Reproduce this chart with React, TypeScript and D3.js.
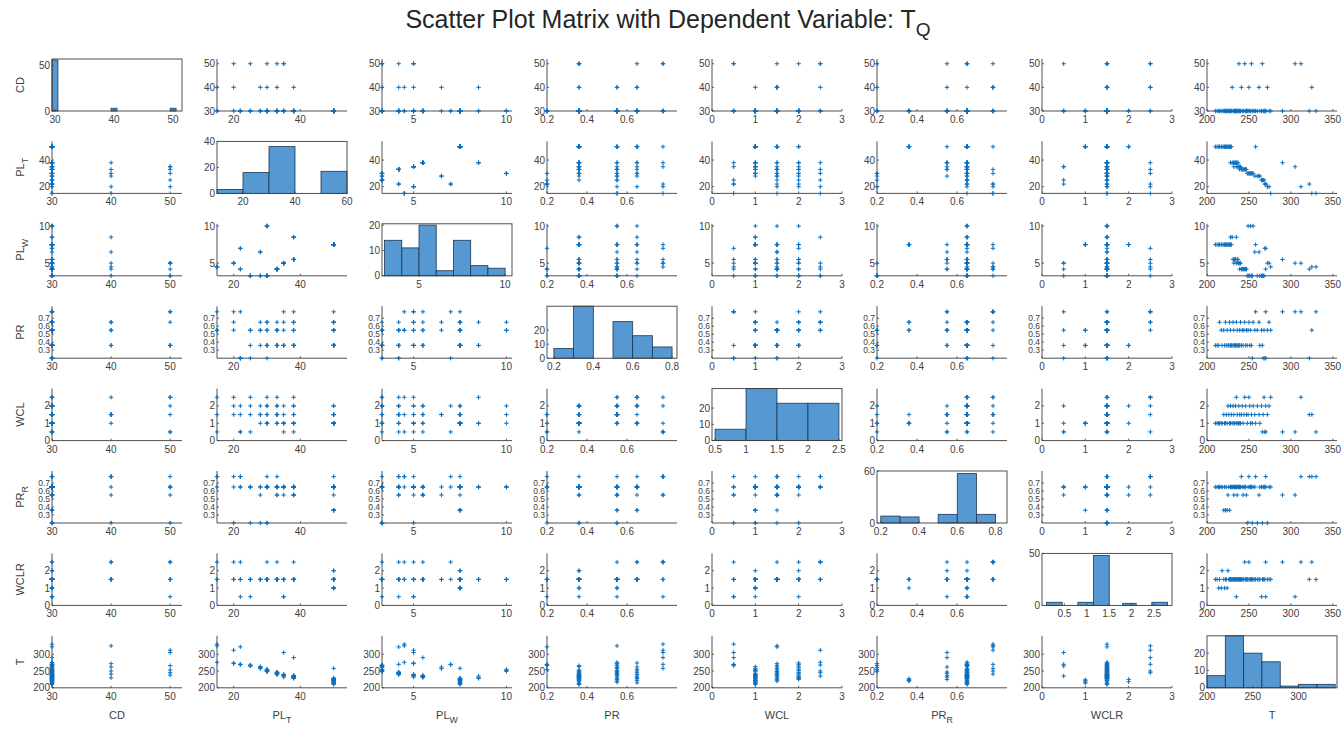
import React from "react";
import * as d3 from "d3";

// ---- Observations (one entry per sample, same order in every array) ----
const cd = [
  30, 30, 30, 30, 30, 30, 30, 30, 30, 30,
  30, 30, 30, 30, 30, 30, 30, 40, 30, 30,
  30, 30, 30, 30, 30, 30, 30, 30, 50, 30,
  30, 30, 40, 30, 30, 30, 50, 30, 30, 30,
  30, 40, 30, 30, 50, 30, 30, 30, 30, 30,
  40, 30, 30, 50, 30, 30, 30, 30, 30, 40,
  30, 30, 30, 50, 50, 30, 40, 30,
];
const plT = [
  50, 50, 50, 50, 50, 50, 50, 50, 50, 50,
  50, 50, 50, 50, 50, 38, 50, 38, 38, 38,
  35, 38, 38, 38, 35, 38, 38, 35, 35, 35,
  33, 35, 33, 33, 33, 33, 33, 33, 33, 30,
  30, 30, 30, 30, 30, 30, 30, 28, 50, 28,
  28, 28, 25, 25, 25, 25, 22, 22, 22, 20,
  20, 15, 38, 35, 20, 22, 15, 15,
];
const plW = [
  7.5, 7.5, 7.5, 7.5, 7.5, 7.5, 7.5, 7.5, 7.5, 7.5,
  7.5, 7.5, 7.5, 7.5, 7.5, 8.5, 7.5, 8.5, 5.5, 5.5,
  5, 5.5, 5.5, 8.5, 5, 5.5, 5.5, 5, 5, 5,
  4.2, 5, 4.2, 4.2, 4.2, 4.2, 4.2, 4.2, 4.2, 3.3,
  10, 3.3, 3.3, 10, 3.3, 3.3, 10, 6.5, 7.5, 3.3,
  6.5, 3.3, 3.3, 3.3, 3.3, 3.3, 7, 7, 4.2, 5,
  5, 4.5, 5.5, 5, 5, 4.2, 4.5, 4.5,
];
const pr = [
  0.36, 0.36, 0.36, 0.65, 0.55, 0.36, 0.55, 0.36, 0.65, 0.36,
  0.55, 0.36, 0.36, 0.65, 0.55, 0.36, 0.36, 0.36, 0.65, 0.55,
  0.36, 0.36, 0.36, 0.65, 0.36, 0.55, 0.36, 0.36, 0.36, 0.55,
  0.36, 0.65, 0.36, 0.55, 0.36, 0.55, 0.65, 0.36, 0.55, 0.36,
  0.55, 0.65, 0.36, 0.55, 0.36, 0.2, 0.65, 0.55, 0.78, 0.55,
  0.65, 0.36, 0.55, 0.36, 0.2, 0.55, 0.2, 0.78, 0.2, 0.55,
  0.65, 0.55, 0.78, 0.78, 0.78, 0.2, 0.55, 0.78,
];
const wcl = [
  1, 1, 1, 1, 1, 1, 1.5, 1, 1, 1.5,
  1, 2, 1.5, 1, 2, 1, 1.5, 1, 2, 1.5,
  1, 1, 2, 2.5, 1, 1.5, 1, 1, 2, 1.5,
  1, 1, 1.5, 2, 1, 1.5, 2.5, 2, 1.5, 1,
  1.5, 2.5, 2, 1, 1.5, 1, 2, 1.5, 1, 2,
  1.5, 1, 2, 0.5, 1.5, 2.5, 0.5, 2, 0.5, 1.5,
  2, 2.5, 0.5, 0.5, 2.5, 1.5, 1.5, 0.5,
];
const prR = [
  0.65, 0.65, 0.65, 0.65, 0.65, 0.65, 0.36, 0.65, 0.36, 0.65,
  0.36, 0.55, 0.65, 0.36, 0.65, 0.65, 0.65, 0.65, 0.65, 0.55,
  0.65, 0.65, 0.65, 0.65, 0.65, 0.55, 0.65, 0.65, 0.65, 0.65,
  0.65, 0.65, 0.78, 0.65, 0.55, 0.65, 0.65, 0.65, 0.55, 0.2,
  0.65, 0.78, 0.65, 0.65, 0.65, 0.2, 0.65, 0.65, 0.78, 0.2,
  0.55, 0.65, 0.65, 0.2, 0.65, 0.65, 0.65, 0.78, 0.65, 0.2,
  0.65, 0.65, 0.55, 0.55, 0.78, 0.78, 0.78, 0.78,
];
const wclR = [
  1.5, 1.5, 1, 1.5, 1, 2, 1.5, 1, 1.5, 1.5,
  1, 2, 1.5, 1.5, 1.5, 1.5, 1.5, 1.5, 1.5, 1.5,
  1.5, 1.5, 1.5, 1.5, 0.5, 1.5, 1.5, 1.5, 1.5, 1.5,
  1.5, 1.5, 1.5, 1.5, 1.5, 1.5, 2.5, 1.5, 1.5, 1.5,
  1.5, 2.5, 1.5, 1.5, 1.5, 1.5, 1.5, 1.5, 1.5, 1.5,
  1.5, 1.5, 0.5, 1.5, 1.5, 1.5, 1.5, 2.5, 0.5, 1.5,
  1.5, 1.5, 2.5, 0.5, 2.5, 1.5, 2.5, 1.5,
];
const tq = [
  210, 212, 214, 215, 217, 218, 220, 221, 222, 223,
  224, 225, 226, 227, 228, 228, 229, 230, 231, 232,
  232, 233, 234, 235, 235, 236, 237, 237, 238, 239,
  239, 240, 241, 242, 243, 244, 245, 246, 247, 248,
  249, 250, 251, 252, 253, 254, 255, 257, 258, 260,
  262, 263, 265, 266, 267, 268, 269, 270, 270, 272,
  274, 276, 290, 305, 312, 322, 325, 330,
];

// ---- Histogram bins for the diagonal ----
const cdBinLo = [29.5, 39.5, 49.5];
const cdBinHi = [30.5, 40.5, 50.5];
const cdCounts = [56, 3, 3];
const plTEdges = [10, 20, 30, 40, 50, 60];
const plTCounts = [3, 16, 36, 0, 17];
const plWEdges = [3, 4, 5, 6, 7, 8, 9, 10];
const plWCounts = [14, 11, 20, 2, 14, 4, 3];
const prEdges = [0.2, 0.3, 0.4, 0.5, 0.6, 0.7, 0.8];
const prCounts = [7, 37, 0, 26, 16, 8];
const wclEdges = [0.5, 1, 1.5, 2, 2.5];
const wclCounts = [7, 32, 23, 23];
const prREdges = [0.2, 0.3, 0.4, 0.5, 0.6, 0.7, 0.8];
const prRCounts = [8, 7, 0, 10, 57, 10];
const wclRBinLo = [0.1, 0.8, 1.15, 1.8, 2.45];
const wclRBinHi = [0.45, 1.15, 1.5, 2.1, 2.8];
const wclRCounts = [3, 3, 48, 2, 3];
const tEdges = [200, 220, 240, 260, 280, 300, 320, 340];
const tCounts = [7, 30, 20, 15, 1, 2, 2];

type Bin = { lo: number; hi: number; n: number };
const fromEdges = (edges: number[], counts: number[]): Bin[] =>
  counts.map((n, i) => ({ lo: edges[i], hi: edges[i + 1], n }));
const fromPairs = (lo: number[], hi: number[], counts: number[]): Bin[] =>
  counts.map((n, i) => ({ lo: lo[i], hi: hi[i], n }));

type HistSpec = {
  bins: Bin[];
  domain: [number, number];
  yMax: number;
  xTicks: number[];
  yTicks: number[];
};
type VarSpec = {
  base: string;
  sub?: string;
  values: number[];
  domain: [number, number];
  xTicks: number[];
  yTicks: number[];
  yTickSize: number;
  hist: HistSpec;
};

const VARS: VarSpec[] = [
  {
    base: "CD", values: cd, domain: [30, 52], xTicks: [30, 40, 50], yTicks: [30, 40, 50], yTickSize: 10,
    hist: { bins: fromPairs(cdBinLo, cdBinHi, cdCounts), domain: [29.5, 51.5], yMax: 57, xTicks: [30, 40, 50], yTicks: [0, 50] },
  },
  {
    base: "PL", sub: "T", values: plT, domain: [15, 54], xTicks: [20, 40], yTicks: [20, 40], yTickSize: 10,
    hist: { bins: fromEdges(plTEdges, plTCounts), domain: [10, 60], yMax: 40, xTicks: [20, 40, 60], yTicks: [0, 20, 40] },
  },
  {
    base: "PL", sub: "W", values: plW, domain: [3.3, 10.3], xTicks: [5, 10], yTicks: [5, 10], yTickSize: 10,
    hist: { bins: fromEdges(plWEdges, plWCounts), domain: [2.85, 10.4], yMax: 20.5, xTicks: [5, 10], yTicks: [0, 10, 20] },
  },
  {
    base: "PR", values: pr, domain: [0.2, 0.85], xTicks: [0.2, 0.4, 0.6], yTicks: [0.3, 0.4, 0.5, 0.6, 0.7], yTickSize: 8.5,
    hist: { bins: fromEdges(prEdges, prCounts), domain: [0.165, 0.825], yMax: 37, xTicks: [0.2, 0.4, 0.6, 0.8], yTicks: [0, 10, 20] },
  },
  {
    base: "WCL", values: wcl, domain: [0, 3], xTicks: [0, 1, 2, 3], yTicks: [0, 1, 2], yTickSize: 10,
    hist: { bins: fromEdges(wclEdges, wclCounts), domain: [0.45, 2.55], yMax: 32, xTicks: [0.5, 1, 1.5, 2, 2.5], yTicks: [0, 10, 20] },
  },
  {
    base: "PR", sub: "R", values: prR, domain: [0.2, 0.85], xTicks: [0.2, 0.4, 0.6], yTicks: [0.3, 0.4, 0.5, 0.6, 0.7], yTickSize: 8.5,
    hist: { bins: fromEdges(prREdges, prRCounts), domain: [0.18, 0.86], yMax: 60, xTicks: [0.2, 0.4, 0.6, 0.8], yTicks: [0, 60] },
  },
  {
    base: "WCLR", values: wclR, domain: [0, 3], xTicks: [0, 1, 2, 3], yTicks: [0, 1, 2], yTickSize: 10,
    hist: { bins: fromPairs(wclRBinLo, wclRBinHi, wclRCounts), domain: [0, 2.9], yMax: 50, xTicks: [0.5, 1, 1.5, 2, 2.5], yTicks: [0, 50] },
  },
  {
    base: "T", values: tq, domain: [200, 355], xTicks: [200, 250, 300, 350], yTicks: [200, 250, 300], yTickSize: 10,
    hist: { bins: fromEdges(tEdges, tCounts), domain: [200, 342], yMax: 30, xTicks: [200, 250, 300], yTicks: [0, 10, 20] },
  },
];

// ---- Layout ----
const WIDTH = 1343;
const HEIGHT = 729;
const PW = 130;
const PH = 52;
const X0 = 52;
const DX = 165;
const B0 = 111;
const DY = 82.4;
const FONT = "'Liberation Sans', Arial, Helvetica, sans-serif";
const AXIS = "#3c3c3c";
const TEXT = "#404040";
const MARK = "#0a6fbf";
const BAR = "#5598d2";
const TICK_LEN = 2;
const fmt = (v: number) => String(v);

function Label({ base, sub, size }: { base: string; sub?: string; size: number }) {
  return (
    <>
      {base}
      {sub ? (
        <tspan dy={size * 0.35} fontSize={size * 0.8}>
          {sub}
        </tspan>
      ) : null}
    </>
  );
}

function XTicks({ scale, ticks, bottom }: { scale: d3.ScaleLinear<number, number>; ticks: number[]; bottom: number }) {
  return (
    <g>
      {ticks.map((t) => (
        <g key={t}>
          <line x1={scale(t)} x2={scale(t)} y1={bottom} y2={bottom - TICK_LEN} stroke={AXIS} strokeWidth={0.8} />
          <text x={scale(t)} y={bottom + 12} textAnchor="middle" fontSize={10} fill={TEXT}>
            {fmt(t)}
          </text>
        </g>
      ))}
    </g>
  );
}

function YTicks({ scale, ticks, left, size }: { scale: d3.ScaleLinear<number, number>; ticks: number[]; left: number; size: number }) {
  return (
    <g>
      {ticks.map((t) => (
        <g key={t}>
          <line x1={left} x2={left + TICK_LEN} y1={scale(t)} y2={scale(t)} stroke={AXIS} strokeWidth={0.8} />
          <text x={left - 2} y={scale(t) + size * 0.35} textAnchor="end" fontSize={size} fill={TEXT}>
            {fmt(t)}
          </text>
        </g>
      ))}
    </g>
  );
}

function Scatter({ xVar, yVar, left, bottom }: { xVar: VarSpec; yVar: VarSpec; left: number; bottom: number }) {
  const x = d3.scaleLinear().domain(xVar.domain).range([left, left + PW]);
  const y = d3.scaleLinear().domain(yVar.domain).range([bottom, bottom - PH]);
  const s = 2.2;
  const d = xVar.values
    .map((v, k) => {
      const px = x(v);
      const py = y(yVar.values[k]);
      return `M${px - s},${py}H${px + s}M${px},${py - s}V${py + s}`;
    })
    .join("");
  return (
    <g>
      <line x1={left} x2={left + PW} y1={bottom} y2={bottom} stroke={AXIS} strokeWidth={0.9} />
      <line x1={left} x2={left} y1={bottom} y2={bottom - PH} stroke={AXIS} strokeWidth={0.9} />
      <XTicks scale={x} ticks={xVar.xTicks} bottom={bottom} />
      <YTicks scale={y} ticks={yVar.yTicks} left={left} size={yVar.yTickSize} />
      <path d={d} stroke={MARK} strokeWidth={1} fill="none" />
    </g>
  );
}

function Histogram({ spec, left, bottom }: { spec: VarSpec; left: number; bottom: number }) {
  const h = spec.hist;
  const x = d3.scaleLinear().domain(h.domain).range([left, left + PW]);
  const y = d3.scaleLinear().domain([0, h.yMax]).range([bottom, bottom - PH]);
  return (
    <g>
      {h.bins
        .filter((b) => b.n > 0)
        .map((b, k) => (
          <rect
            key={k}
            x={x(b.lo)}
            y={y(Math.min(b.n, h.yMax))}
            width={x(b.hi) - x(b.lo)}
            height={bottom - y(Math.min(b.n, h.yMax))}
            fill={BAR}
            stroke="#1d3550"
            strokeWidth={0.8}
          />
        ))}
      <rect x={left} y={bottom - PH} width={PW} height={PH} fill="none" stroke={AXIS} strokeWidth={0.9} />
      <XTicks scale={x} ticks={h.xTicks} bottom={bottom} />
      <YTicks scale={y} ticks={h.yTicks} left={left} size={10} />
    </g>
  );
}

export default function App() {
  const cells: React.ReactNode[] = [];
  VARS.forEach((rowVar, i) => {
    VARS.forEach((colVar, j) => {
      const left = X0 + DX * j;
      const bottom = B0 + DY * i;
      cells.push(
        i === j ? (
          <Histogram key={`${i}-${j}`} spec={rowVar} left={left} bottom={bottom} />
        ) : (
          <Scatter key={`${i}-${j}`} xVar={colVar} yVar={rowVar} left={left} bottom={bottom} />
        )
      );
    });
  });

  return (
    <svg
      width={WIDTH}
      height={HEIGHT}
      viewBox={`0 0 ${WIDTH} ${HEIGHT}`}
      style={{ position: "absolute", left: 0, top: 0, display: "block", background: "#fff" }}
      fontFamily={FONT}
    >
      <rect x={0} y={0} width={WIDTH} height={HEIGHT} fill="#fff" />
      <text x={668} y={28} textAnchor="middle" fontSize={25} fill="#262626">
        Scatter Plot Matrix with Dependent Variable: T
        <tspan dy={8} fontSize={19}>Q</tspan>
      </text>
      {cells}
      {VARS.map((v, i) => (
        <text
          key={`row-${i}`}
          transform={`translate(24,${B0 + DY * i - PH / 2}) rotate(-90)`}
          textAnchor="middle"
          fontSize={11}
          fill={TEXT}
        >
          <Label base={v.base} sub={v.sub} size={11} />
        </text>
      ))}
      {VARS.map((v, j) => (
        <text key={`col-${j}`} x={X0 + DX * j + PW / 2} y={719} textAnchor="middle" fontSize={11} fill={TEXT}>
          <Label base={v.base} sub={v.sub} size={11} />
        </text>
      ))}
    </svg>
  );
}
